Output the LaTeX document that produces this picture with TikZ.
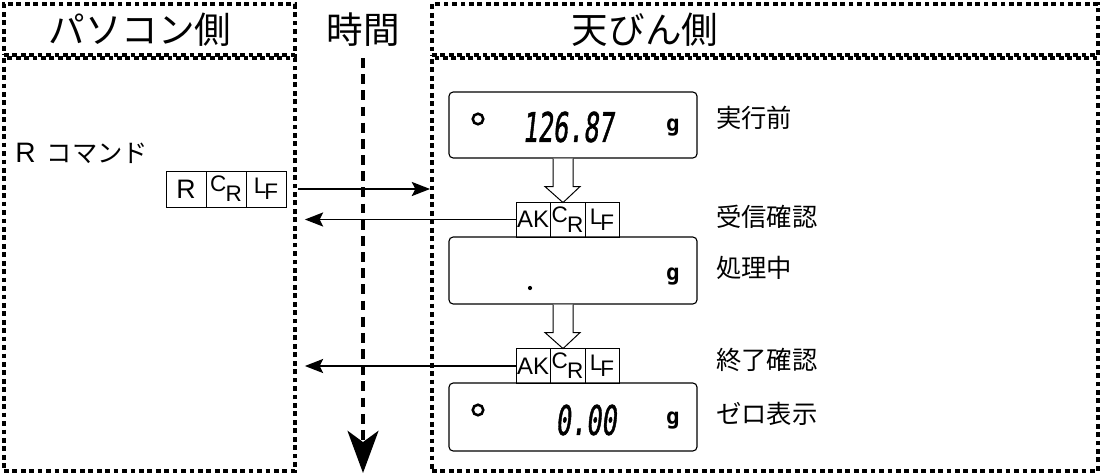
\documentclass[tikz,border=0pt]{standalone}
\usepackage{fontspec}
\setmainfont{Liberation Sans}
\newfontfamily\jp{Noto Sans CJK JP}
\newfontfamily\segfont[FakeSlant=0.18,FakeBold=1.5]{DejaVu Sans Mono}
\newfontfamily\unitfont{DejaVu Sans Mono}
\usepackage{tikz}
\usetikzlibrary{arrows.meta,positioning,calc}
\newcommand{\crmark}{{\fontsize{16}{16}\selectfont\raisebox{3.5pt}{C}\hspace{-0.5pt}\raisebox{-3.5pt}{R}}}
\newcommand{\lfmark}{{\fontsize{16}{16}\selectfont\raisebox{1pt}{L}\hspace{-1.5pt}\raisebox{-3pt}{F}}}
\newcommand{\segtext}[1]{\scalebox{0.62}[1]{\segfont #1}}

\begin{document}
\begin{tikzpicture}[x=0.025cm, y=-0.025cm,
  zone/.style={draw, line width=2.6pt, dash pattern=on 3.4pt off 2.6pt, inner sep=0pt},
  head/.style={font=\jp\fontsize{26}{28}\selectfont},
  cell/.style={draw, line width=0.6pt, inner sep=0pt, outer sep=0pt, minimum height=0.9cm, font=\fontsize{19}{19}\selectfont},
  disp/.style={draw, rounded corners=3pt, line width=0.8pt, minimum width=6.2cm, inner sep=0pt},
  lab/.style={anchor=west, inner sep=0pt, font=\jp\fontsize{18}{20}\selectfont},
  seg/.style={font=\fontsize{29}{30}\selectfont, inner sep=0pt},
  unit/.style={font=\unitfont\fontsize{16}{16}\selectfont\bfseries, inner sep=0pt},
  ring/.style={draw, circle, line width=1.8pt, minimum size=7.5pt, inner sep=0pt},
  msg/.style={line width=1.4pt, -{Stealth[length=13pt,width=10pt,inset=2.5pt]}},
  hollow/.style={draw, line width=0.7pt, fill=white, line join=miter}]
\useasboundingbox (0,0) rectangle (1102,475);
% zones
\node[zone, minimum width=7.275cm, minimum height=1.275cm] (pchead) at (149.5,29.5) {};
\node[zone, minimum width=7.275cm, minimum height=10.325cm] (pcbody) at (149.5,264.5) {};
\node[zone, minimum width=16.65cm, minimum height=1.275cm] (bhead) at (765,29.5) {};
\node[zone, minimum width=16.65cm, minimum height=10.325cm] (bbody) at (765,264.5) {};
\node[head] (pctitle) at (140,30) {パソコン側};
\node[head] (ttitle) at (363,30) {時間};
\node[head] (btitle) at (645,30) {天びん側};
% time axis
\coordinate (tstart) at (363,58);
\coordinate (tend) at (363,473);
\draw[line width=2.6pt, dash pattern=on 7pt off 4.5pt, -{Stealth[length=30pt,width=22pt,inset=8pt]}] (tstart) -- (tend);
% command
\node[anchor=west, inner sep=0pt, font=\fontsize{20}{20}\selectfont] (rcmd) at (15,153) {R\hspace{8pt}{\jp\fontsize{18}{18}\selectfont コマンド}};
\node[cell, minimum width=1cm] (r1) at (186,189) {R};
\node[cell, minimum width=1cm, right=0pt of r1] (r2) {\crmark};
\node[cell, minimum width=1cm, right=0pt of r2] (r3) {\lfmark};
\draw[msg] ($(r3.east)+(12,0)$) -- (bbody.west |- r3.east);
% displays
\node[disp, minimum height=1.65cm] (d1) at (573,125) {};
\node[disp, minimum height=1.675cm] (d2) at (573,270.5) {};
\node[disp, minimum height=1.7cm] (d3) at (573,417) {};
\node[ring] (o1) at (478,119) {};
\node[seg] (v1) at (568,127) {\segtext{126.87}};
\node[unit] (g1) at (673,128) {g};
\node[circle, fill, inner sep=0pt, minimum size=3pt] (p2) at (530,288) {};
\node[unit] (g2) at (673,277) {g};
\node[ring] (o3) at (478,410) {};
\node[seg] (v3) at (586,420) {\segtext{0.00}};
\node[unit] (g3) at (673,421) {g};
\foreach \d in {d1,d2}
  \draw[hollow, shift={(\d.south)}] (-20,0) -- (-20,28) -- (-28,28) -- (-10,44) -- (7,28) -- (0,28) -- (0,0);
% replies
\foreach \n/\y in {1/219.5,2/366} {
  \node[cell, minimum width=0.85cm, minimum height=0.875cm, font=\fontsize{17}{17}\selectfont] (ak\n) at (533,\y) {AK};
  \node[cell, minimum width=0.875cm, minimum height=0.875cm, right=0pt of ak\n] (cr\n) {\crmark};
  \node[cell, minimum width=0.85cm, minimum height=0.875cm, right=0pt of cr\n] (lf\n) {\lfmark};
  \draw[msg] (ak\n.west) -- ($(pcbody.east |- ak\n.west)+(8,0)$);
}
% labels
\node[lab] (l1) at (716,118) {実行前};
\node[lab] (l2) at (716,217) {受信確認};
\node[lab] (l3) at (716,268) {処理中};
\node[lab] (l4) at (716,360) {終了確認};
\node[lab] (l5) at (716,414) {ゼロ表示};
\end{tikzpicture}
\end{document}
